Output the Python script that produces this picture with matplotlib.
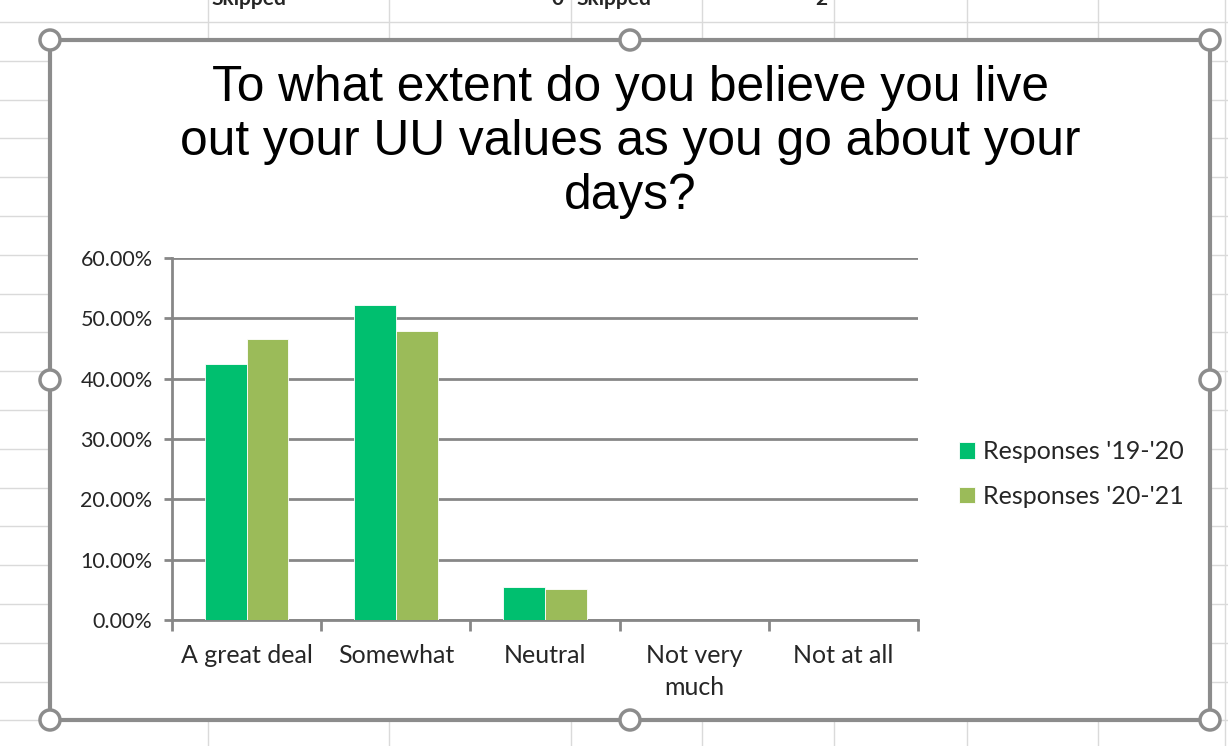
import numpy as np
import matplotlib.pyplot as plt
from matplotlib.patches import Rectangle, Ellipse
from matplotlib.lines import Line2D

# --- survey data ---
categories = ['A great deal', 'Somewhat', 'Neutral', 'Not very\nmuch', 'Not at all']
resp_19_20 = [42.4, 52.2, 5.4, 0.0, 0.0]
resp_20_21 = [46.6, 47.9, 5.2, 0.0, 0.0]
series_names = ["Responses '19-'20", "Responses '20-'21"]
title = 'To what extent do you believe you live\nout your UU values as you go about your\ndays?'

W, H = 1228, 746
fig = plt.figure(figsize=(W / 100, H / 100), dpi=100)
fig.patch.set_facecolor('white')


def fx(px):
    return px / W


def fy(py):
    return 1 - py / H


# spreadsheet cell grid behind the chart object
grid_c = '#dadada'
for yy in np.arange(22, H, 38.8):
    fig.add_artist(Line2D([0, 1], [fy(yy), fy(yy)], color=grid_c, lw=1, zorder=0.1))
for xx in [208, 389, 571, 702, 834, 967, 1098, 1225]:
    fig.add_artist(Line2D([fx(xx), fx(xx)], [0, 1], color=grid_c, lw=1, zorder=0.1))

# header row of the sheet, scrolled half out of view
hdr = dict(fontsize=15, fontweight='bold', color='#262626', va='center', family='Lato', zorder=0.2)
fig.text(fx(211), fy(-1), 'Skipped', ha='left', **hdr)
fig.text(fx(563), fy(-1), '0', ha='right', **hdr)
fig.text(fx(576), fy(-1), 'Skipped', ha='left', **hdr)
fig.text(fx(827), fy(-1), '2', ha='right', **hdr)

# chart area with selection frame and handles
x0, y0, x1, y1 = 50, 40, 1210, 720
fig.add_artist(Rectangle((fx(x0), fy(y1)), fx(x1) - fx(x0), fy(y0) - fy(y1),
                         facecolor='white', edgecolor='#8c8c8c', lw=3, zorder=1))
r = 10
for hx, hy in [(x0, y0), (630, y0), (x1, y0), (x0, 380), (x1, 380),
               (x0, y1), (630, y1), (x1, y1)]:
    fig.add_artist(Ellipse((fx(hx), fy(hy)), 2 * r / W, 2 * r / H,
                           facecolor='white', edgecolor='#8c8c8c', lw=2.5, zorder=2))

fig.text(fx(630), fy(142), title, ha='center', va='center', fontsize=35.7,
         family='Liberation Sans', linespacing=1.22, zorder=6)

# plot area
ax = fig.add_axes([fx(172), fy(620), (918 - 172) / W, (620 - 258) / H])
ax.set_zorder(5)
ax.patch.set_alpha(0)

x = np.arange(len(categories))
w = 0.28
ax.bar(x - w / 2, resp_19_20, w, color='#00bf6f', edgecolor='white', lw=0.6,
       label=series_names[0], zorder=3)
ax.bar(x + w / 2, resp_20_21, w, color='#9bbb59', edgecolor='white', lw=0.6,
       label=series_names[1], zorder=3)

axis_c = '#878787'
ax.set_xlim(-0.5, len(categories) - 0.5)
ax.set_ylim(0, 60)
ax.set_yticks(np.arange(0, 61, 10))
ax.set_yticklabels([f'{v:.2f}%' for v in np.arange(0, 61, 10)])
ax.yaxis.grid(True, color=axis_c, lw=2)
ax.set_axisbelow(True)

for s in ['top', 'right']:
    ax.spines[s].set_visible(False)
for s in ['left', 'bottom']:
    ax.spines[s].set_color(axis_c)
    ax.spines[s].set_linewidth(2)

ax.set_xticks(np.arange(-0.5, len(categories), 1))
ax.set_xticklabels([])
ax.set_xticks(x, minor=True)
ax.set_xticklabels(categories, minor=True)
ax.tick_params(axis='x', which='major', length=8, width=2, color=axis_c)
ax.tick_params(axis='x', which='minor', length=0, pad=17, labelsize=18,
               labelcolor='#262626')
ax.tick_params(axis='y', length=6, width=2, color=axis_c, labelsize=15.5,
               labelcolor='#262626', pad=8)
for lab in ax.get_xticklabels(minor=True):
    lab.set_family('Lato')
    lab.set_linespacing(1.5)
for lab in ax.get_yticklabels():
    lab.set_family('Lato')

leg = ax.legend(loc='center left', bbox_to_anchor=((949 - 172) / (918 - 172), (620 - 474) / (620 - 258)),
                frameon=False, prop={'family': 'Lato', 'size': 18},
                handlelength=0.65, handleheight=0.65, handletextpad=0.3,
                labelspacing=0.85, borderaxespad=0)
for t in leg.get_texts():
    t.set_color('#262626')

fig.savefig('out.png', dpi=100, facecolor='white')
